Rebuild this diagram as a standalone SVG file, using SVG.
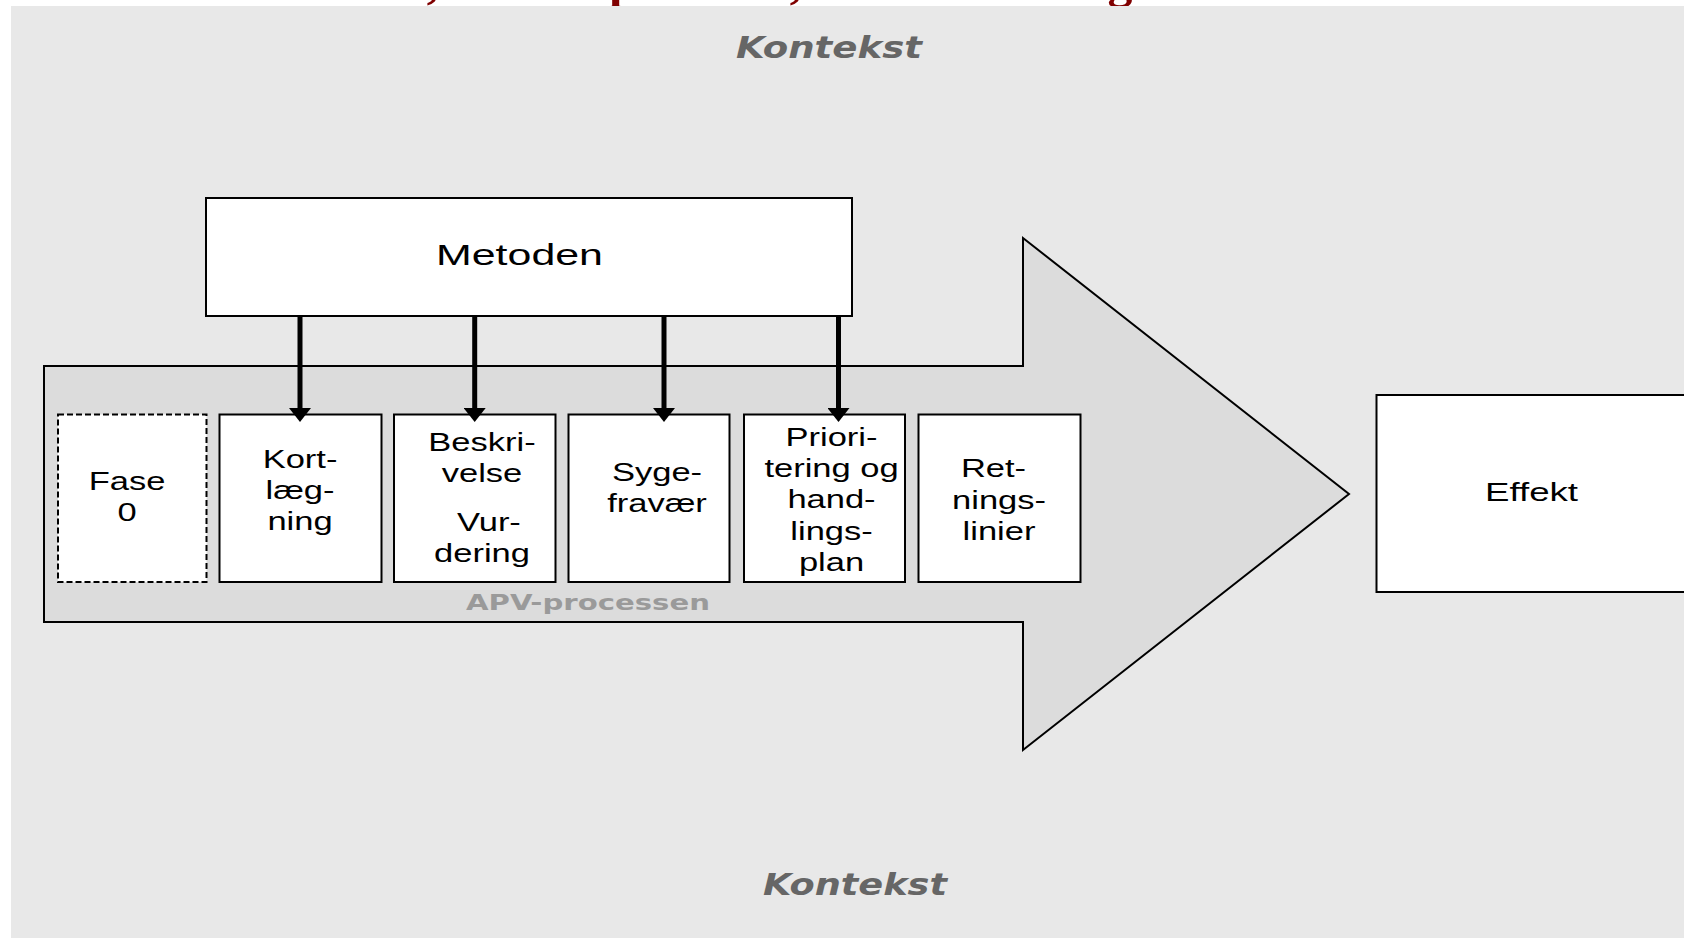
<svg xmlns="http://www.w3.org/2000/svg" width="1684" height="938" viewBox="0 0 1684 938">
<style>
.box{fill:#ffffff;stroke:#000000;stroke-width:2}
.bt{font-family:"Liberation Sans",Arial,sans-serif;font-size:25px;fill:#000000;text-anchor:middle}
.ctx{font-family:"DejaVu Sans",Verdana,sans-serif;font-weight:bold;font-style:italic;font-size:31px;fill:#666666}
.apv{font-family:"DejaVu Sans",Verdana,sans-serif;font-weight:bold;font-size:21px;fill:#9a9a9a}
.title{font-family:"Liberation Serif","Times New Roman",serif;font-weight:bold;font-size:50px;fill:#800000;text-anchor:middle}
.conn{stroke:#000000;stroke-width:5;fill:none;marker-end:url(#ah)}
</style>
<defs>
<marker id="ah" markerUnits="userSpaceOnUse" markerWidth="16" markerHeight="22" viewBox="0 0 16 22" refX="2" refY="11" orient="auto">
<path d="M0,0 L14,11 L0,22 Z" fill="#000000"/>
</marker>
</defs>
<rect width="1684" height="938" fill="#ffffff"/>
<g id="title-fragments">
<text class="title" x="433" y="-3">,</text>
<text class="title" x="623" y="-3">p</text>
<text class="title" x="796" y="-3">,</text>
<text class="title" x="1120" y="-3">g</text>
</g>
<rect id="background" x="11" y="6" width="1673" height="932" fill="#e8e8e8"/>
<g id="kontekst-top"><text class="ctx" x="736" y="58" textLength="186" lengthAdjust="spacingAndGlyphs">Kontekst</text></g>
<g id="kontekst-bottom"><text class="ctx" x="763" y="895" textLength="184" lengthAdjust="spacingAndGlyphs">Kontekst</text></g>
<g id="apv-arrow">
<polygon points="44,366 1023,366 1023,238 1349,494 1023,750 1023,622 44,622" fill="#dcdcdc" stroke="#000000" stroke-width="2"/>
<text class="apv" x="466" y="610" textLength="244" lengthAdjust="spacingAndGlyphs">APV-processen</text>
</g>
<g id="metoden">
<rect class="box" x="206" y="198" width="646" height="118"/>
<g transform="translate(519.5,0) scale(1.43,1)"><text class="bt" style="font-size:30px" x="0" y="265">Metoden</text></g>
</g>
<g id="fase0">
<rect x="58" y="414.5" width="148.5" height="167.5" fill="#ffffff" stroke="#000000" stroke-width="2" stroke-dasharray="6 3"/>
<g transform="translate(127,0) scale(1.38,1)"><text class="bt" x="0" y="490">Fase</text><text class="bt" x="0" y="521">0</text></g>
</g>
<g id="kortlaegning">
<rect class="box" x="219.5" y="414.5" width="162" height="167.5"/>
<g transform="translate(300,0) scale(1.38,1)"><text class="bt" x="0" y="468">Kort-</text><text class="bt" x="0" y="499">læg-</text><text class="bt" x="0" y="530">ning</text></g>
</g>
<g id="beskrivelse">
<rect class="box" x="394" y="414.5" width="161.5" height="167.5"/>
<g transform="translate(482,0) scale(1.38,1)"><text class="bt" x="0" y="451">Beskri-</text><text class="bt" x="0" y="482">velse</text><text class="bt" x="5" y="531">Vur-</text><text class="bt" x="0" y="562">dering</text></g>
</g>
<g id="sygefravaer">
<rect class="box" x="568.5" y="414.5" width="161" height="167.5"/>
<g transform="translate(657,0) scale(1.38,1)"><text class="bt" x="0" y="481">Syge-</text><text class="bt" x="0" y="512">fravær</text></g>
</g>
<g id="prioritering">
<rect class="box" x="744" y="414.5" width="161" height="167.5"/>
<g transform="translate(831.5,0) scale(1.38,1)"><text class="bt" x="0" y="446">Priori-</text><text class="bt" x="0" y="477">tering og</text><text class="bt" x="0" y="508.5">hand-</text><text class="bt" x="0" y="540">lings-</text><text class="bt" x="0" y="571">plan</text></g>
</g>
<g id="retningslinier">
<rect class="box" x="918.5" y="414.5" width="162" height="167.5"/>
<g transform="translate(999,0) scale(1.38,1)"><text class="bt" x="-4" y="477">Ret-</text><text class="bt" x="0" y="509">nings-</text><text class="bt" x="0" y="540">linier</text></g>
</g>
<g id="effekt">
<rect class="box" x="1376.5" y="395" width="320" height="197"/>
<g transform="translate(1531.5,0) scale(1.41,1)"><text class="bt" style="font-size:26px" x="0" y="501">Effekt</text></g>
</g>
<g id="connectors">
<line class="conn" x1="300" y1="317" x2="300" y2="410"/>
<line class="conn" x1="474.7" y1="317" x2="474.7" y2="410"/>
<line class="conn" x1="664" y1="317" x2="664" y2="410"/>
<line class="conn" x1="838.5" y1="317" x2="838.5" y2="410"/>
</g>
</svg>
